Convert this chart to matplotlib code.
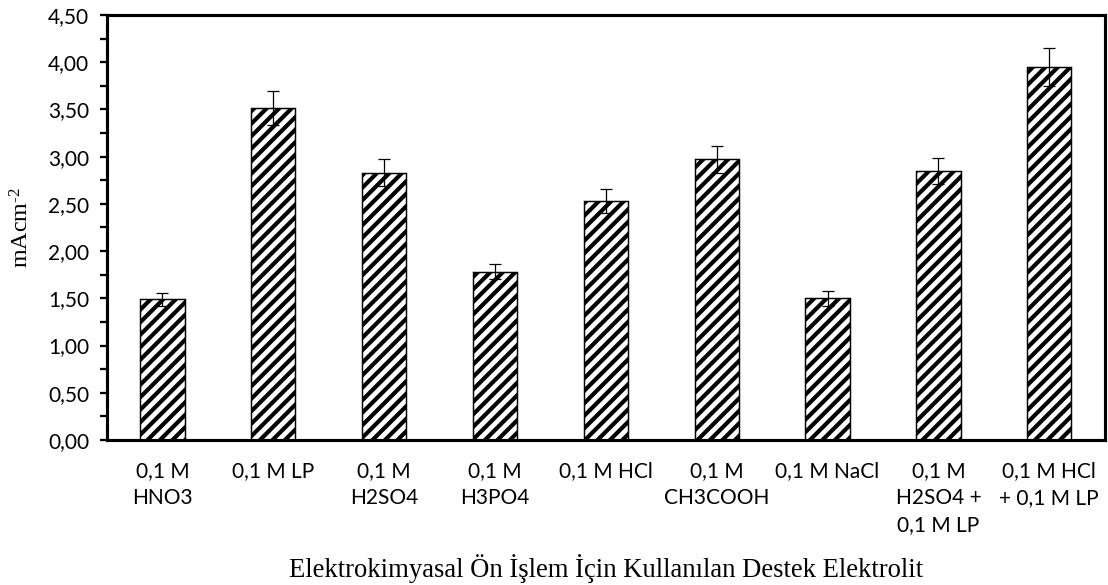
import matplotlib
matplotlib.use("Agg")
import matplotlib.pyplot as plt
from matplotlib.ticker import MultipleLocator, FuncFormatter
import numpy as np

categories = ["0,1 M\nHNO3", "0,1 M LP", "0,1 M\nH2SO4", "0,1 M\nH3PO4", "0,1 M HCl",
              "0,1 M\nCH3COOH", "0,1 M NaCl", "0,1 M\nH2SO4 +\n0,1 M LP", "0,1 M HCl\n+ 0,1 M LP"]
values = [1.49, 3.51, 2.83, 1.78, 2.53, 2.97, 1.50, 2.85, 3.95]
errors = [0.07, 0.18, 0.14, 0.08, 0.13, 0.14, 0.08, 0.14, 0.20]

plt.rcParams['hatch.linewidth'] = 2.0
plt.rcParams['hatch.color'] = 'black'
plt.rcParams['mathtext.fontset'] = 'custom'
plt.rcParams['mathtext.rm'] = 'Liberation Serif'
plt.rcParams['mathtext.it'] = 'Liberation Serif:italic'

fig = plt.figure(figsize=(1108 / 150, 585 / 150), dpi=150)
ax = fig.add_axes([0.0966, 0.2479, 0.9004, 0.7265])

x = np.arange(len(categories))
ax.bar(x, values, width=0.4, color='white', edgecolor='black', linewidth=0.7, hatch='////')
ax.errorbar(x, values, yerr=errors, fmt='none', ecolor='black', elinewidth=0.6,
            capsize=3, capthick=0.6)

ax.set_xlim(-0.5, len(categories) - 0.5)
ax.set_ylim(0, 4.5)
ax.yaxis.set_major_locator(MultipleLocator(0.5))
ax.yaxis.set_minor_locator(MultipleLocator(0.25))
ax.yaxis.set_major_formatter(FuncFormatter(lambda v, p: f"{v:.2f}".replace('.', ',')))

ax.set_xticks(x)
ax.set_xticklabels(categories, fontfamily='Lato', fontsize=10, linespacing=1.45, va='top')
ax.tick_params(axis='x', length=0, pad=10)
ax.tick_params(axis='y', which='major', direction='out', length=3.5, width=1.1, pad=5,
               labelsize=10)
ax.tick_params(axis='y', which='minor', direction='out', length=3.5, width=1.1)
for lab in ax.get_yticklabels():
    lab.set_fontfamily('Lato')

for s in ax.spines.values():
    s.set_linewidth(1.5)
    s.set_color('black')

ax.set_ylabel(r"mAcm$^{\text{-2}}$", fontfamily='Liberation Serif', fontsize=11.5, labelpad=7)
ax.set_xlabel("Elektrokimyasal Ön İşlem İçin Kullanılan Destek Elektrolit",
              fontfamily='Liberation Serif', fontsize=12.8, labelpad=9)

fig.savefig("out.png", dpi=150)
